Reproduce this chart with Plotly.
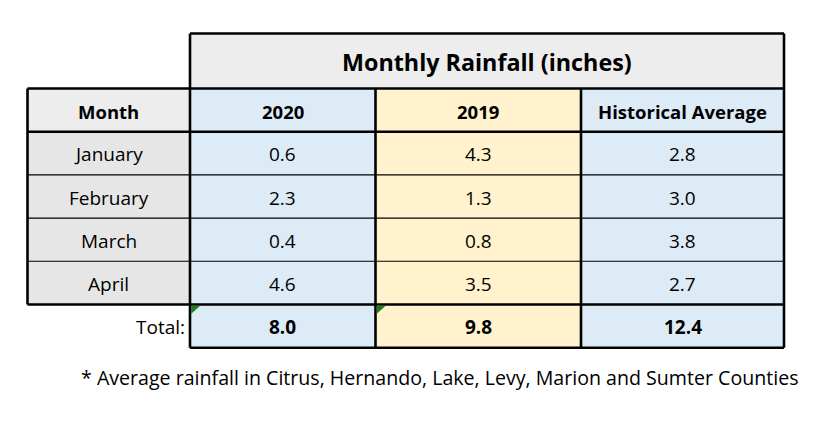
import plotly.graph_objects as go

# ---- data ----
title_text = "Monthly Rainfall (inches)"
header_labels = ["Month", "2020", "2019", "Historical Average"]
months = ["January", "February", "March", "April"]
rain_2020 = [0.6, 2.3, 0.4, 4.6]
rain_2019 = [4.3, 1.3, 0.8, 3.5]
hist_avg = [2.8, 3.0, 3.8, 2.7]
totals = [8.0, 9.8, 12.4]
total_label = "Total:"
footnote = "* Average rainfall in Citrus, Hernando, Lake, Levy, Marion and Sumter Counties"

# ---- layout geometry (page pixels; the plot div sits 8px inside the page) ----
OFF = 8
W, H = 826 - OFF, 423 - OFF
col_edges = [c - OFF for c in [27.5, 190, 375.5, 581, 784]]
title_top = 33.5 - OFF
row_h = 43.2
header_top = 88.5 - OFF
n_rows = len(months)
row_tops = [header_top + row_h * (i + 1) for i in range(n_rows)]
total_top = header_top + row_h * (n_rows + 1)
total_bot = total_top + row_h

FONT = "Open Sans, sans-serif"
TITLE_BG = "#ededed"
HEAD_BG = "#ededed"
MONTH_BG = "#e7e6e6"
BLUE = "#ddebf7"
YELLOW = "#fff2cc"
col_fills = [BLUE, YELLOW, BLUE]
THICK = 2.6
THIN = 1.1
BODY = 19
HEAD = 18.5

shapes = []
annotations = []

def rect(x0, x1, y0, y1, fill):
    shapes.append(dict(type="rect", xref="x", yref="y", x0=x0, x1=x1, y0=y0, y1=y1,
                       fillcolor=fill, line=dict(width=0), layer="below"))

def line(x0, y0, x1, y1, w):
    shapes.append(dict(type="line", xref="x", yref="y", x0=x0, y0=y0, x1=x1, y1=y1,
                       line=dict(color="black", width=w)))

def text(x, y, s, size=BODY, bold=False, xanchor="center"):
    annotations.append(dict(x=x, y=y, xref="x", yref="y", text=("<b>%s</b>" % s) if bold else s,
                            showarrow=False, xanchor=xanchor, yanchor="middle",
                            font=dict(family=FONT, size=size, color="black")))

# fills
rect(col_edges[1], col_edges[4], title_top, header_top, TITLE_BG)
rect(col_edges[0], col_edges[1], header_top, row_tops[0], HEAD_BG)
for j in range(3):
    rect(col_edges[j + 1], col_edges[j + 2], header_top, total_bot, col_fills[j])
rect(col_edges[0], col_edges[1], row_tops[0], total_top, MONTH_BG)

# thin row separators
for i in range(1, n_rows):
    line(col_edges[0], row_tops[i], col_edges[4], row_tops[i], THIN)

# thick borders
line(col_edges[1], title_top, col_edges[4], title_top, THICK)
line(col_edges[1], title_top, col_edges[1], total_bot, THICK)
line(col_edges[4], title_top, col_edges[4], total_bot, THICK)
line(col_edges[0], header_top, col_edges[4], header_top, THICK)
line(col_edges[0], row_tops[0], col_edges[4], row_tops[0], THICK)
line(col_edges[0], header_top, col_edges[0], total_top, THICK)
for k in (2, 3):
    line(col_edges[k], header_top, col_edges[k], total_bot, THICK)
line(col_edges[0], total_top, col_edges[4], total_top, THICK)
line(col_edges[1], total_bot, col_edges[4], total_bot, THICK)

# green error-indicator triangles
for k in (1, 2):
    x0 = col_edges[k] + 1.2
    y0 = total_top + 1.2
    shapes.append(dict(type="path", xref="x", yref="y",
                       path="M %f %f L %f %f L %f %f Z" % (x0, y0, x0 + 9, y0, x0, y0 + 8),
                       fillcolor="#1a7f1a", line=dict(width=0)))

# texts
cx = [(col_edges[i] + col_edges[i + 1]) / 2 for i in range(4)]
text((col_edges[1] + col_edges[4]) / 2, (title_top + header_top) / 2 + 1, title_text, size=23.3, bold=True)
for i, h in enumerate(header_labels):
    text(cx[i], (header_top + row_tops[0]) / 2 + 1, h, size=HEAD, bold=True)
for r in range(n_rows):
    ym = row_tops[r] + row_h / 2 + 1
    text(cx[0], ym, months[r])
    text(cx[1], ym, "%.1f" % rain_2020[r])
    text(cx[2], ym, "%.1f" % rain_2019[r])
    text(cx[3], ym, "%.1f" % hist_avg[r])
ym = total_top + row_h / 2 + 1
text(col_edges[1] - 3, ym, total_label, xanchor="right")
for j in range(3):
    text(cx[j + 1], ym, "%.1f" % totals[j], bold=True)
text(440 - OFF, 377 - OFF, footnote, size=19.6)

fig = go.Figure()
fig.update_layout(
    width=W, height=H, margin=dict(l=0, r=0, t=0, b=0),
    paper_bgcolor="white", plot_bgcolor="white",
    xaxis=dict(range=[0, W], visible=False, fixedrange=True),
    yaxis=dict(range=[H, 0], visible=False, fixedrange=True),
    shapes=shapes, annotations=annotations, showlegend=False,
)
fig.write_html("out.html")
